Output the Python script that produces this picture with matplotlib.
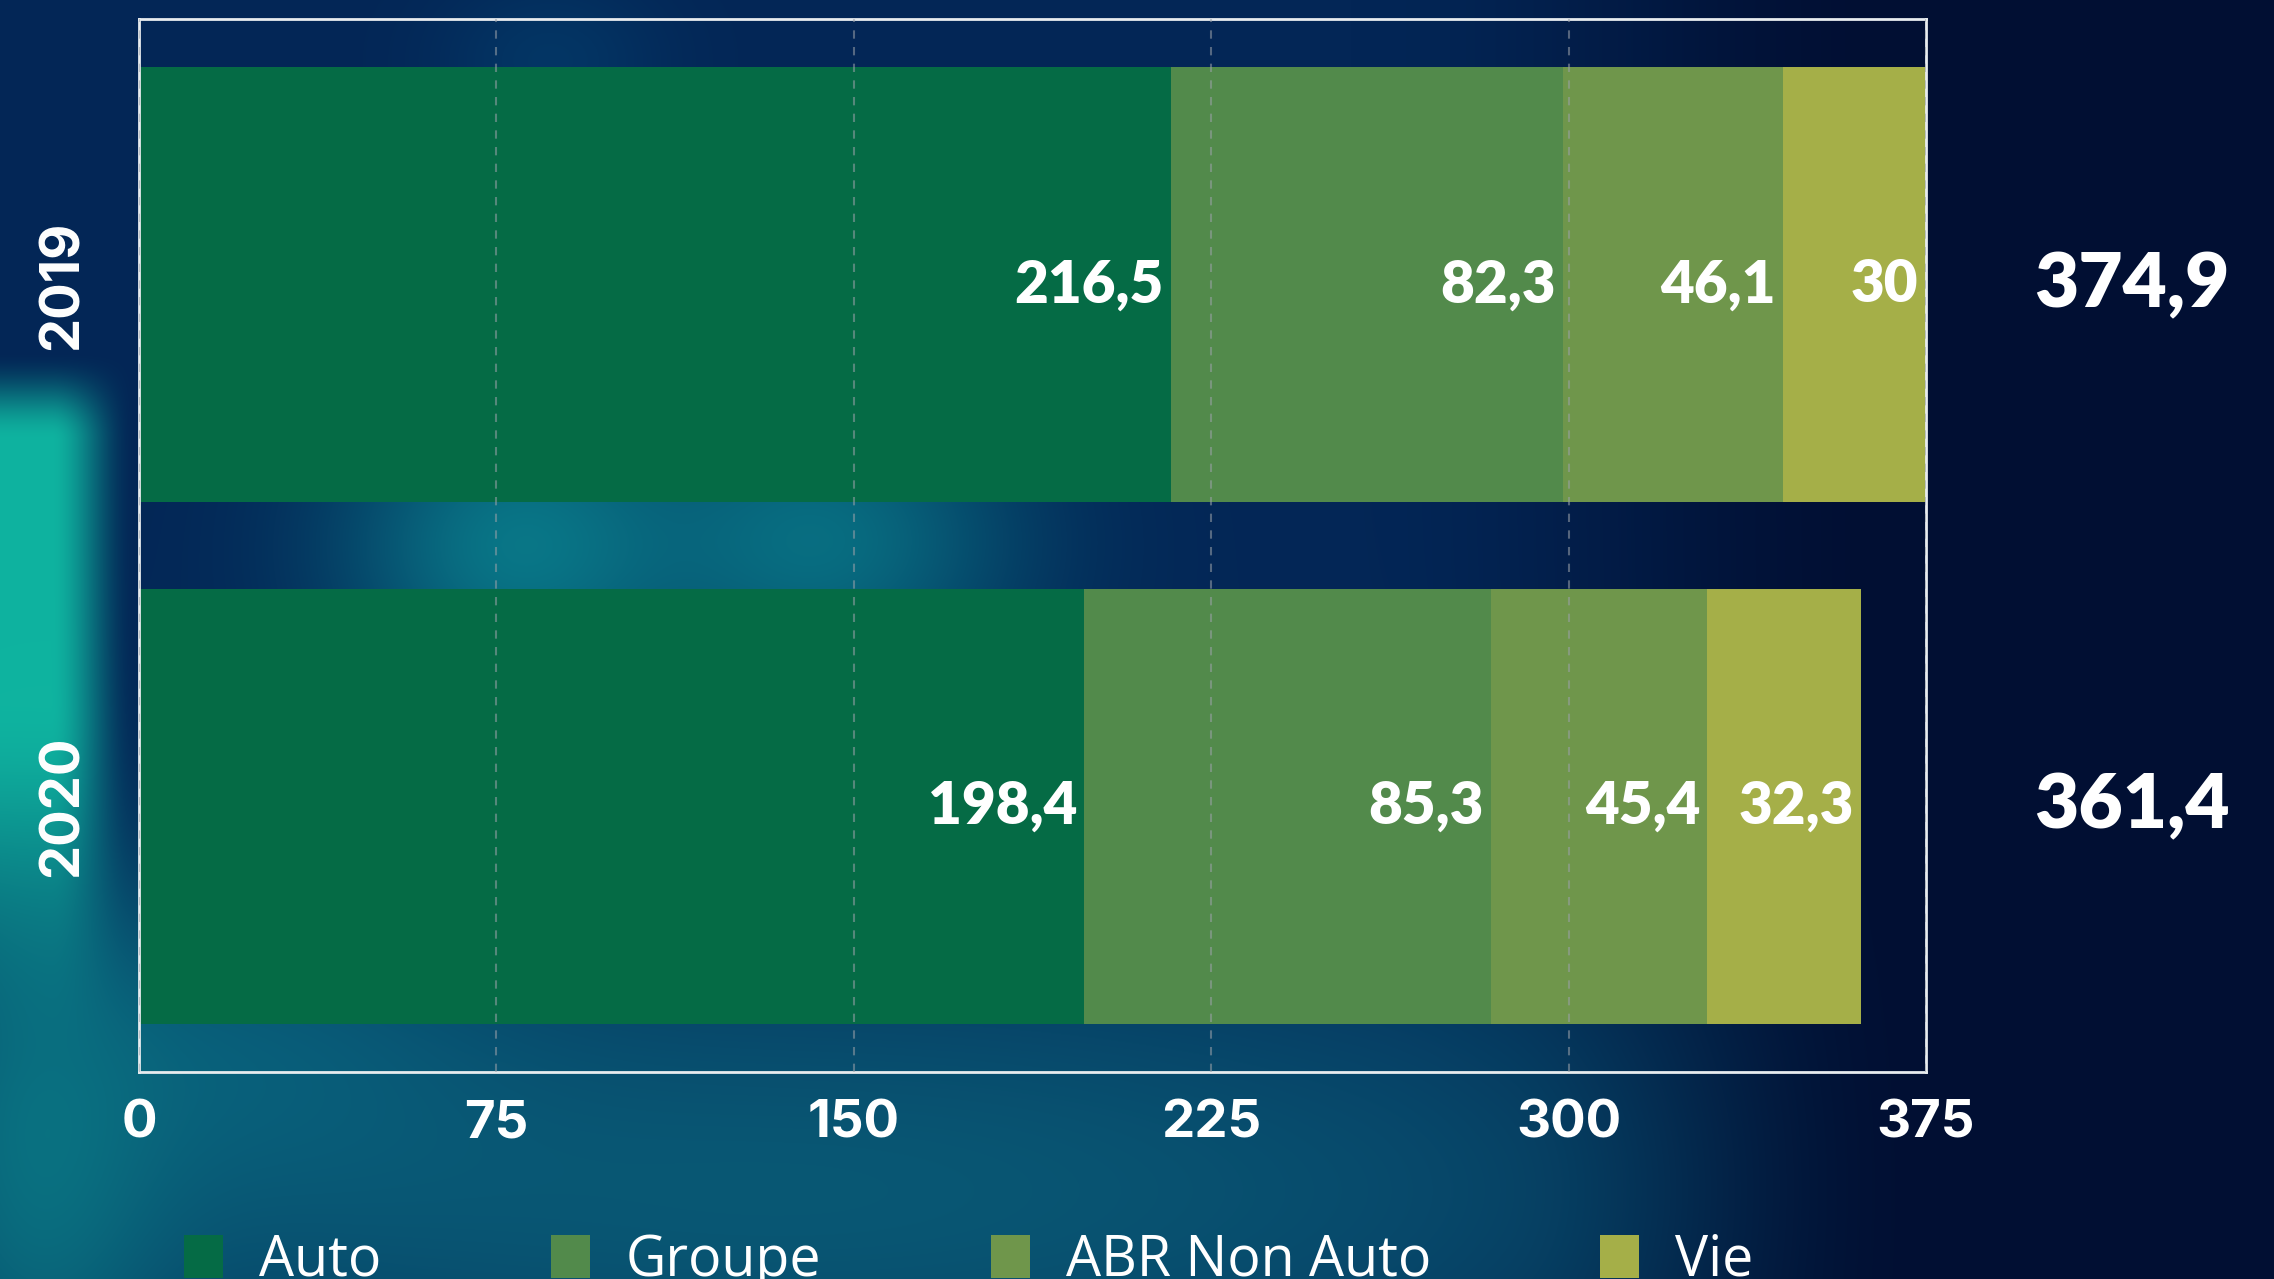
import numpy as np
import matplotlib.pyplot as plt
from matplotlib.transforms import blended_transform_factory

# data
years = ["2019", "2020"]
categories = ["Auto", "Groupe", "ABR Non Auto", "Vie"]
auto = [216.5, 198.4]
groupe = [82.3, 85.3]
abr = [46.1, 45.4]
vie = [30, 32.3]
totals = [374.9, 361.4]
xticks = [0, 75, 150, 225, 300, 375]

colors = ["#056b45", "#528a4b", "#6f964b", "#a5af48"]


def fr(v):
    return ("%g" % v).replace(".", ",")


W, H = 2274, 1279
fig = plt.figure(figsize=(W / 100, H / 100), dpi=100)

# blurred background, navy with teal glows
yy, xx = np.mgrid[0:H, 0:W].astype(float)
def hexrgb(h):
    return np.array([int(h[i:i + 2], 16) / 255 for i in (1, 3, 5)])

def smooth(a, b, x):
    t = np.clip((x - a) / (b - a), 0, 1)
    return t * t * (3 - 2 * t)

t = smooth(1350, 1900, xx)[..., None]
img = hexrgb("#032656") * (1 - t) + hexrgb("#010f33") * t
fade = (1 - smooth(1500, 1950, xx))[..., None]
blobs = [
    (520, 545, 130, 110, "#0b8f96", 0.75),
    (820, 540, 140, 110, "#0a8a92", 0.7),
    (800, 1190, 750, 190, "#0a6079", 0.85),
    (230, 1060, 200, 120, "#0a6f85", 0.6),
    (550, 60, 80, 60, "#03406e", 0.6),
    (40, 1150, 90, 200, "#0b7f88", 0.7),
]
for cx, cy, sx, sy, c, a in blobs:
    al = a * np.exp(-((xx - cx) ** 2 / (2 * sx ** 2) + (yy - cy) ** 2 / (2 * sy ** 2)))[..., None] * fade
    img = img * (1 - al) + hexrgb(c) * al
# teal strip on the far left
strip = (1 - smooth(50, 135, xx)) * smooth(350, 440, yy) * (1 - smooth(700, 1080, yy))
strip = (0.92 * strip)[..., None]
img = img * (1 - strip) + hexrgb("#10bfa6") * strip
bg = fig.add_axes([0, 0, 1, 1], zorder=-1)
bg.imshow(img, aspect="auto", extent=[0, 1, 0, 1])
bg.axis("off")

ax = fig.add_axes([139 / W, 1 - 1072 / H, 1787 / W, 1053 / H])
ax.set_facecolor("none")

y = np.arange(len(years))
left = np.zeros(len(years))
for vals, name, col in zip([auto, groupe, abr, vie], categories, colors):
    bars = ax.barh(y, vals, left=left, height=0.834, color=col, label=name, zorder=2)
    for b, v in zip(bars, vals):
        ax.annotate(fr(v), (b.get_x() + b.get_width(), b.get_y() + b.get_height() / 2),
                    xytext=(-5, 0), textcoords="offset points", ha="right", va="center",
                    color="white", fontsize=42, fontweight="heavy", family="Lato", zorder=4)
    left += np.array(vals)

tr = blended_transform_factory(ax.transAxes, ax.transData)
for yi, tot in zip(y, totals):
    ax.text(1.115, yi, fr(tot), transform=tr, ha="center", va="center",
            color="white", fontsize=55, fontweight="heavy", family="Lato")

ax.set_xlim(0, 375)
ax.set_ylim(1.51, -0.51)
ax.set_xticks(xticks)
ax.set_xticklabels([str(v) for v in xticks], color="white", fontsize=38,
                   fontweight="bold", family="Inter")
ax.set_yticks(y)
ax.set_yticklabels(years, rotation=90, va="center", color="white", fontsize=39,
                   fontweight="bold", family="Inter")
ax.tick_params(axis="x", length=0, pad=20)
ax.tick_params(axis="y", length=0, pad=36)
ax.grid(axis="x", color="#9aa0a8", linestyle=(0, (4, 4)), linewidth=1.5, alpha=0.55, zorder=3)
ax.set_axisbelow(False)
for s in ax.spines.values():
    s.set_color("#e8ecef")
    s.set_linewidth(2)

fig.legend(loc="upper left", bbox_to_anchor=(184 / W, 0.036), ncol=4, frameon=False,
           prop={"family": "Open Sans", "size": 40}, labelcolor="white",
           handlelength=0.7, handleheight=0.8, handletextpad=0.65,
           columnspacing=3.05, borderpad=0, borderaxespad=0)

fig.savefig("out.png", dpi=100)
